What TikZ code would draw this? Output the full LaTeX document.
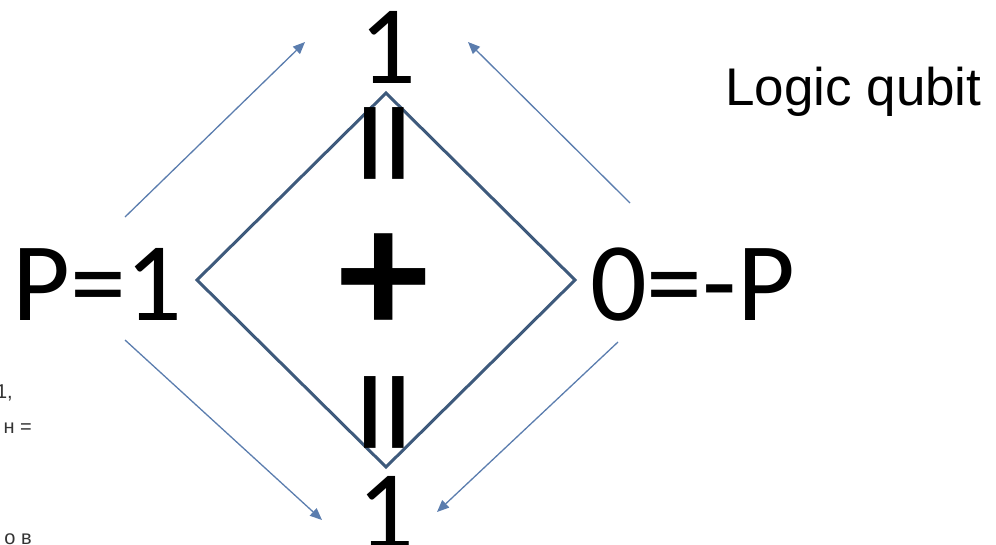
\documentclass[tikz,border=0pt]{standalone}
\usepackage{fontspec}
\setmainfont{Carlito}
\newfontfamily\arialf{Liberation Sans}
\usetikzlibrary{arrows.meta}
\definecolor{diam}{HTML}{3E5A7C}
\definecolor{arr}{HTML}{5B7DAE}
\definecolor{frag}{HTML}{333333}
\tikzset{
  big/.style={inner sep=0pt, font=\fontsize{112}{112}\selectfont},
  eqrot/.style={inner sep=0pt, rotate=90, font=\fontsize{177}{177}\selectfont},
  plussign/.style={inner sep=0pt, font=\bfseries\fontsize{182}{182}\selectfont},
  fragtxt/.style={inner sep=0pt, anchor=base east, text=frag, font=\arialf\fontsize{20}{20}\selectfont},
  thinarrow/.style={draw=arr, line width=1.3pt, -{Triangle[length=12pt,width=10pt]}},
  diamline/.style={draw=diam, line width=3pt, line join=miter}
}
\begin{document}
\begin{tikzpicture}[x=1pt,y=-1pt]
\useasboundingbox (0,0) rectangle (996,544);
\begin{scope}
\clip (0,0) rectangle (996,544);
% diamond
\coordinate (dt) at (386,93);
\coordinate (db) at (386,467);
\coordinate (dl) at (197,280);
\coordinate (dr) at (575,280);
\draw[diamline] (dt) -- (dr) -- (db) -- (dl) -- cycle;
% texts
\node[big, anchor=base] (one1) at (388,83) {1};
\node[big, anchor=base] (one2) at (386,548) {1};
\node[eqrot] (eq1) at (403,143) {=};
\node[eqrot] (eq2) at (403,412) {=};
\node[plussign] (plus) at (384,284) {+};
\node[big, anchor=base west] (pleft) at (12,320) {P=1};
\node[big, anchor=base west] (pright) at (590,320) {0=-P};
\node[inner sep=0pt, anchor=base west, font=\arialf\fontsize{53}{53}\selectfont] (logic) at (725,105) {Logic qubit};
% cut fragments
\node[fragtxt] (f1) at (13,398) {1,};
\node[fragtxt] (f2) at (32,433) {н =};
\node[fragtxt] (f3) at (32,544) {о в};
% arrows
\coordinate (a1s) at (125,217); \coordinate (a1e) at (305,42);
\coordinate (a2s) at (630,203); \coordinate (a2e) at (468,42);
\coordinate (a3s) at (125,340); \coordinate (a3e) at (322,520);
\coordinate (a4s) at (618,342); \coordinate (a4e) at (437,512);
\draw[thinarrow] (a1s) -- (a1e);
\draw[thinarrow] (a2s) -- (a2e);
\draw[thinarrow] (a3s) -- (a3e);
\draw[thinarrow] (a4s) -- (a4e);
\end{scope}
\end{tikzpicture}
\end{document}
